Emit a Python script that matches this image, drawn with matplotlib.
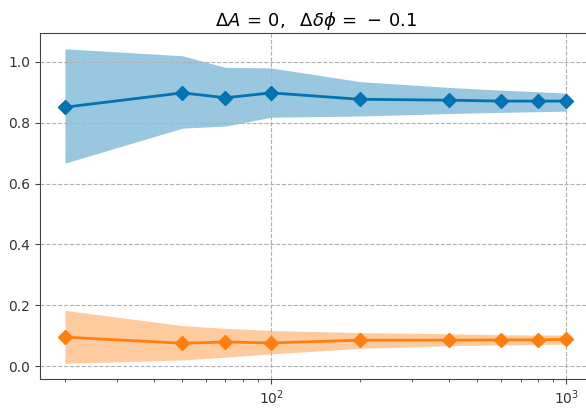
import matplotlib.pyplot as plt

# sample sizes
n = [20, 50, 70, 100, 200, 400, 600, 800, 1000]

# upper curve: mean and band
blue_mean = [0.851, 0.898, 0.882, 0.898, 0.877, 0.874, 0.871, 0.871, 0.871]
blue_hi = [1.043, 1.020, 0.982, 0.980, 0.935, 0.916, 0.907, 0.902, 0.897]
blue_lo = [0.667, 0.782, 0.789, 0.818, 0.822, 0.830, 0.834, 0.836, 0.838]

# lower curve: mean and band
orange_mean = [0.095, 0.075, 0.079, 0.076, 0.085, 0.085, 0.086, 0.086, 0.088]
orange_hi = [0.183, 0.133, 0.124, 0.117, 0.110, 0.106, 0.103, 0.102, 0.102]
orange_lo = [0.009, 0.020, 0.029, 0.040, 0.058, 0.067, 0.069, 0.070, 0.072]

title = r'$\Delta A\,=\,0,\ \ \Delta\delta\phi\,=\,-\,0.1$'

blue = '#0173b2'
orange = '#ff7f0e'

fig = plt.figure(figsize=(5.86, 4.08), dpi=100)
ax = fig.add_axes([0.068, 0.071, 0.941, 0.848])

ax.fill_between(n, blue_lo, blue_hi, color=blue, alpha=0.4, linewidth=0)
ax.plot(n, blue_mean, color=blue, marker='D', markersize=7.5, linewidth=2)
ax.fill_between(n, orange_lo, orange_hi, color=orange, alpha=0.4, linewidth=0)
ax.plot(n, orange_mean, color=orange, marker='D', markersize=7.5, linewidth=2)

ax.set_xscale('log')
ax.grid(True, linestyle='--', color='#b0b0b0', linewidth=0.8)
ax.set_title(title, fontsize=13, pad=5)

for s in ax.spines.values():
    s.set_color('#444444')
ax.tick_params(colors='#444444', labelcolor='#333333', labelsize=10)
ax.tick_params(which='minor', colors='#444444')

fig.savefig('out.png', dpi=100)
